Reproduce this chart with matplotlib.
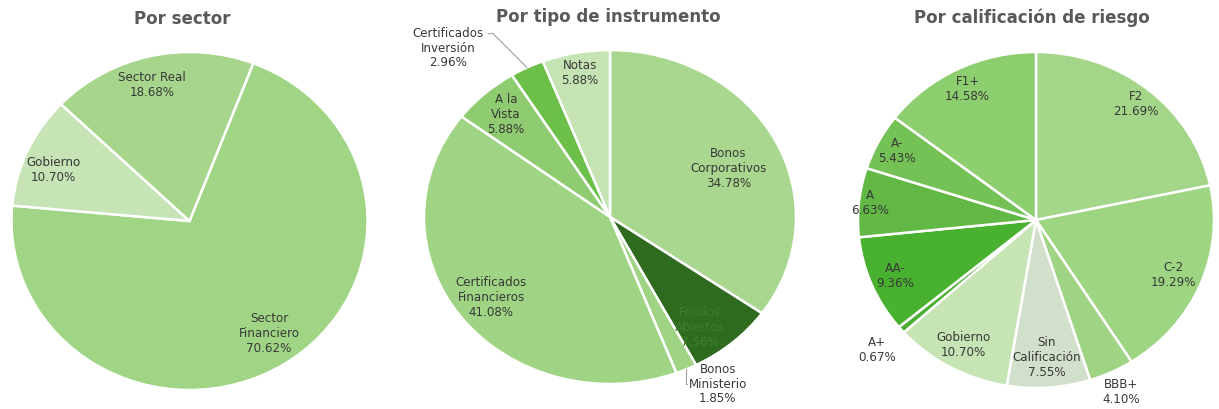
import numpy as np
import matplotlib
matplotlib.use("Agg")
import matplotlib.pyplot as plt

# Chart data
sector_labels = ["Sector\nFinanciero", "Gobierno", "Sector Real"]
sector_values = [70.62, 10.70, 18.68]

instr_labels = ["Bonos\nCorporativos", "Fondos\nAbiertos", "Bonos\nMinisterio",
                "Certificados\nFinancieros", "A la\nVista", "Certificados\nInversión", "Notas"]
instr_values = [34.78, 7.56, 1.85, 41.08, 5.88, 2.96, 5.88]

rating_labels = ["F2", "C-2", "BBB+", "Sin\nCalificación", "Gobierno", "A+", "AA-", "A", "A-", "F1+"]
rating_values = [21.69, 19.29, 4.10, 7.55, 10.70, 0.67, 9.36, 6.63, 5.43, 14.58]

# Styles
sector_colors = ["#a0d585", "#c6e4b5", "#a7d58c"]
instr_colors = ["#a9d78f", "#2f6b1f", "#9fd484", "#9fd484", "#8fcb70", "#6cbf48", "#c6e4b3"]
rating_colors = ["#a4d68a", "#9ed583", "#9fd484", "#d2dfca", "#c6e4b4",
                 "#4caf35", "#48b130", "#62b845", "#74c255", "#8dce6f"]

# label radius and angle nudge (degrees) per slice
sector_label_r = [(0.80, 2), (0.82, 3), (0.83, 2)]
instr_label_r = [(0.70, -3), (0.82, -5), None, (0.80, 0), (0.83, 0), None, (0.88, 0)]
rating_label_r = [(0.89, 0), (0.84, 0), (1.13, 0), (0.82, 0), (0.85, 0),
                  (1.18, 0), (0.86, 0), (0.94, 0), (0.88, 0), (0.87, 0)]

W, H = 1219, 409
TEXT = "#383838"
TITLE = "#595959"
LABEL_SIZE = 8.6

fig = plt.figure(figsize=(W / 100, H / 100), dpi=100)
fig.patch.set_facecolor("white")


def draw_pie(cx, cy, rx, ry, values, labels, colors, start, label_r, title, title_xy,
             text_colors=None):
    pad = 1.3
    ax = fig.add_axes([(cx - pad * rx) / W, (H - cy - pad * ry) / H,
                       2 * pad * rx / W, 2 * pad * ry / H])
    wedges, _ = ax.pie(values, colors=colors, startangle=start, counterclock=False,
                       wedgeprops=dict(edgecolor="white", linewidth=1.8))
    ax.set_aspect("auto")
    ax.set_xlim(-pad, pad)
    ax.set_ylim(-pad, pad)
    for i, (w, lab, val) in enumerate(zip(wedges, labels, values)):
        if label_r[i] is None:
            continue
        r, nudge = label_r[i]
        mid = np.deg2rad((w.theta1 + w.theta2) / 2 + nudge)
        col = text_colors[i] if text_colors else TEXT
        ax.text(r * np.cos(mid), r * np.sin(mid), f"{lab}\n{val:.2f}%",
                ha="center", va="center", fontsize=LABEL_SIZE, color=col, linespacing=1.2)
    fig.text(title_xy[0] / W, 1 - title_xy[1] / H, title, ha="center", va="center",
             fontsize=12, fontweight="bold", color=TITLE)
    return ax, wedges


def leader_label(ax, w, lab, val, text_xy, relpos, style):
    mid = np.deg2rad((w.theta1 + w.theta2) / 2)
    ax.annotate(f"{lab}\n{val:.2f}%", xy=(np.cos(mid), np.sin(mid)), xytext=text_xy,
                ha="center", va="center", fontsize=LABEL_SIZE, color=TEXT, linespacing=1.15,
                annotation_clip=False,
                arrowprops=dict(arrowstyle="-", color="#a0a0a0", lw=0.8,
                                shrinkA=1, shrinkB=0, relpos=relpos,
                                connectionstyle=style))


draw_pie(189.5, 221, 178, 169, sector_values, sector_labels, sector_colors, 69,
         sector_label_r, "Por sector", (182, 19))

instr_text_colors = [TEXT, "#3f7d2c", TEXT, TEXT, TEXT, TEXT, TEXT]
ax2, w2 = draw_pie(610, 217, 186, 167, instr_values, instr_labels, instr_colors, 90,
                   instr_label_r, "Por tipo de instrumento", (608, 17), instr_text_colors)
leader_label(ax2, w2[2], instr_labels[2], instr_values[2], (0.58, -1.0), (0.0, 0.5),
             "angle,angleA=180,angleB=90,rad=0")
leader_label(ax2, w2[5], instr_labels[5], instr_values[5], (-0.87, 1.01), (1.0, 0.85),
             "angle,angleA=0,angleB=135,rad=0")

draw_pie(1036, 220, 178, 168, rating_values, rating_labels, rating_colors, 90,
         rating_label_r, "Por calificación de riesgo", (1032, 18))

fig.savefig("out.png", dpi=100, facecolor="white")
